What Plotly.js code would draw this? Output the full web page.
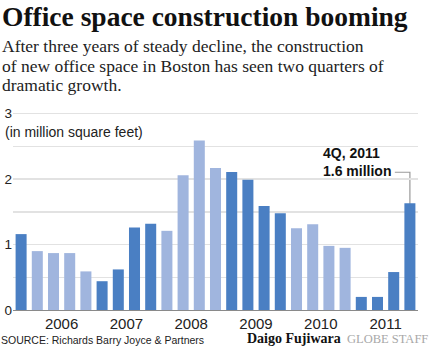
<!DOCTYPE html>
<html>
<head>
<meta charset="utf-8">
<script src="https://cdn.plot.ly/plotly-3.0.1.min.js"></script>
<style>
  html, body { margin: 0; padding: 0; background: #fff; }
  #chart { width: 430px; height: 348px; }
</style>
</head>
<body>
<div id="chart"></div>
<script>
// ---- Data ----
const quarters = [
  '4Q, 2005',
  '1Q, 2006', '2Q, 2006', '3Q, 2006', '4Q, 2006',
  '1Q, 2007', '2Q, 2007', '3Q, 2007', '4Q, 2007',
  '1Q, 2008', '2Q, 2008', '3Q, 2008', '4Q, 2008',
  '1Q, 2009', '2Q, 2009', '3Q, 2009', '4Q, 2009',
  '1Q, 2010', '2Q, 2010', '3Q, 2010', '4Q, 2010',
  '1Q, 2011', '2Q, 2011', '3Q, 2011', '4Q, 2011'
];
const values = [
  1.16,
  0.90, 0.87, 0.87, 0.59,
  0.44, 0.62, 1.26, 1.32,
  1.21, 2.06, 2.59, 2.17,
  2.11, 1.99, 1.59, 1.48,
  1.25, 1.31, 0.98, 0.95,
  0.20, 0.20, 0.58, 1.63
];
const yearLabels = ['2006', '2007', '2008', '2009', '2010', '2011'];
const yTickVals = [0, 0.5, 1, 1.5, 2, 2.5, 3];
const yTickText = ['0', '', '1', '', '2', '', '3'];

const titleText = 'Office space construction booming';
const subtitleLines = [
  'After three years of steady decline, the construction',
  'of new office space in Boston has seen two quarters of',
  'dramatic growth.'
];
const unitText = '(in million square feet)';
const sourceText = 'SOURCE: Richards Barry Joyce & Partners';
const creditName = 'Daigo Fujiwara';
const creditStaff = 'GLOBE STAFF';

// ---- Styles ----
const DARK = '#4a7fc3';
const LIGHT = '#a0b5de';
const SANS = 'Liberation Sans, Arial, sans-serif';
const SERIF = 'Liberation Serif, Times New Roman, serif';

const xIdx = quarters.map((q, i) => i);
const yearOf = quarters.map(q => parseInt(q.split(', ')[1], 10));
const colors = yearOf.map(y => (y % 2 === 1 ? DARK : LIGHT));
const tickPos = yearLabels.map(y => {
  const idx = quarters.map((q, i) => (q.endsWith(y) ? i : -1)).filter(i => i >= 0);
  return idx.reduce((a, b) => a + b, 0) / idx.length;
});

// layout geometry
const W = 430, H = 348;
const M = { l: 13, r: 12, t: 112, b: 38 };
const PW = W - M.l - M.r, PH = H - M.t - M.b;
const px = x => (x - M.l) / PW;          // pixel -> paper x
const py = y => (H - M.b - y) / PH;      // pixel -> paper y

const last = values.length - 1;
const calloutText = quarters[last] + '<br>' + values[last].toFixed(1) + ' million';

const trace = {
  type: 'bar',
  x: xIdx,
  y: values,
  marker: { color: colors, line: { width: 0 } },
  hoverinfo: 'skip'
};

const ann = (text, x, y, font, xanchor, yanchor) => ({
  text, xref: 'paper', yref: 'paper', x: px(x), y: py(y),
  xanchor: xanchor || 'left', yanchor: yanchor || 'middle',
  showarrow: false, font, align: 'left'
});

const layout = {
  width: W, height: H,
  margin: M,
  paper_bgcolor: '#fff', plot_bgcolor: '#fff',
  showlegend: false,
  bargap: 0.32,
  xaxis: {
    range: [-0.5, 24.5],
    tickvals: tickPos, ticktext: yearLabels,
    showgrid: false, zeroline: false,
    showline: true, linecolor: '#8a8a8a', linewidth: 1,
    ticks: '',
    tickfont: { family: SANS, size: 15, color: '#222' },
    fixedrange: true
  },
  yaxis: {
    range: [0, (H - M.b - M.t) / 65.43],
    tickvals: yTickVals, ticktext: yTickText,
    showgrid: true, gridcolor: '#e2e2e2', gridwidth: 1.3,
    zeroline: false, showline: false, ticks: '',
    tickfont: { family: SANS, size: 13.5, color: '#222' },
    fixedrange: true
  },
  shapes: [
    {
      type: 'path', layer: 'below', xref: 'x', yref: 'y',
      path: 'M ' + (last - 0.93) + ' 2.105 L ' + last + ' 2.105 L ' + last + ' ' + (values[last] - 0.1),
      line: { color: '#9a9a9a', width: 1.2 }
    }
  ],
  annotations: [
    ann(titleText, 0, 16, { family: SERIF, size: 27.5, color: '#111', weight: 'bold' }),
    ann(subtitleLines[0], 0, 46, { family: SERIF, size: 17.5, color: '#222' }),
    ann(subtitleLines[1], 0, 65.5, { family: SERIF, size: 17.5, color: '#222' }),
    ann(subtitleLines[2], 0, 85, { family: SERIF, size: 17.5, color: '#222' }),
    ann(unitText, 3, 131.5, { family: SANS, size: 14, color: '#222' }),
    ann(calloutText, 393, 162, { family: SANS, size: 14, color: '#111', weight: 'bold' }, 'right'),
    ann(sourceText, -1, 340, { family: SANS, size: 10.5, color: '#222' }),
    ann(creditName, 245, 338.5, { family: SERIF, size: 14, color: '#111', weight: 'bold' }),
    ann(creditStaff, 345, 338.5, { family: SERIF, size: 12.5, color: '#a8a8a8' })
  ]
};

Plotly.newPlot('chart', [trace], layout, { displayModeBar: false, staticPlot: true });
</script>
</body>
</html>
